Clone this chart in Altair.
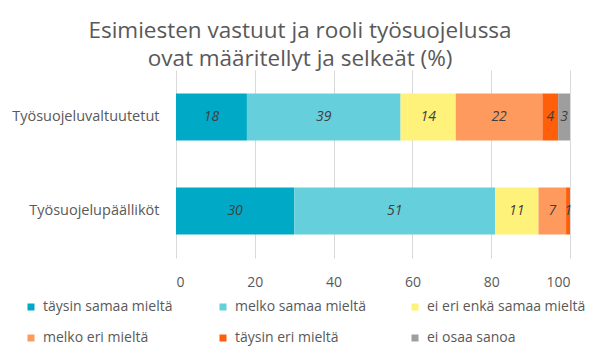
import altair as alt
import pandas as pd

groups = ["Työsuojeluvaltuutetut", "Työsuojelupäälliköt"]
categories = ["täysin samaa mieltä", "melko samaa mieltä", "ei eri enkä samaa mieltä",
              "melko eri mieltä", "täysin eri mieltä", "ei osaa sanoa"]
colors = ["#00A9C6", "#66CFDC", "#FFF27A", "#FF9A5E", "#FF5F0A", "#9E9E9E"]
values_valtuutetut = [18, 39, 14, 22, 4, 3]
values_paalliköt = [30, 51, 11, 7, 1, 0]
x_ticks = [0, 20, 40, 60, 80, 100]
title_lines = ["Esimiesten vastuut ja rooli työsuojelussa", "ovat määritellyt ja selkeät (%)"]

rows = []
for g, vals in zip(groups, [values_valtuutetut, values_paalliköt]):
    for i, (c, v) in enumerate(zip(categories, vals)):
        rows.append({"group": g, "category": c, "value": v, "order": i})
df = pd.DataFrame(rows)

FONT = "Open Sans"
GRAY = "#595959"

base = alt.Chart(df).transform_stack(
    stack="value", groupby=["group"], as_=["v0", "v1"],
    sort=[alt.SortField("order", order="ascending")]
).transform_calculate(mid="(datum.v0 + datum.v1) / 2")

y_enc = alt.Y("group:N", sort=groups, title=None,
              scale=alt.Scale(paddingInner=0.5, paddingOuter=0.25),
              axis=alt.Axis(ticks=False, domain=False, labelPadding=17, labelFontSize=14.5,
                            labelColor=GRAY, labelFont=FONT))

bars = base.mark_bar().encode(
    x=alt.X("v0:Q", title=None, scale=alt.Scale(domain=[0, 100], nice=False),
            axis=alt.Axis(values=x_ticks, grid=True, gridColor="#D9D9D9", domain=False,
                          ticks=False, labelPadding=17, labelFontSize=14, labelColor=GRAY,
                          labelFont=FONT)),
    x2="v1:Q",
    y=y_enc,
    color=alt.Color("category:N", sort=categories,
                    scale=alt.Scale(domain=categories, range=colors),
                    legend=alt.Legend(title=None, orient="none", legendX=-152, legendY=230,
                                      direction="horizontal", columns=3, gridAlign="all",
                                      columnPadding=14, rowPadding=17,
                                      symbolType="square", symbolSize=49, symbolStrokeWidth=0,
                                      symbolOffset=0, labelOffset=5, labelFontSize=14,
                                      labelColor=GRAY, labelFont=FONT, padding=0,
                                      labelLimit=300)),
    order=alt.Order("order:Q"),
)

labels = base.transform_filter("datum.value > 0").mark_text(
    fontStyle="italic", fontSize=14, color="#404040", font=FONT
).encode(
    x="mid:Q",
    y=alt.Y("group:N", sort=groups),
    text="value:Q",
)

chart = alt.layer(bars, labels).properties(
    width=394, height=188,
    autosize=alt.AutoSizeParams(type="none"),
    padding={"left": 168, "top": 62, "right": 23, "bottom": 95},
    title=alt.TitleParams(text=title_lines, fontSize=22.5, font=FONT, fontWeight="normal",
                          color=GRAY, anchor="middle", dx=-73, offset=0, lineHeight=28),
).configure_view(stroke=None)

chart.save("out.html", embed_options={"renderer": "svg", "actions": False})
